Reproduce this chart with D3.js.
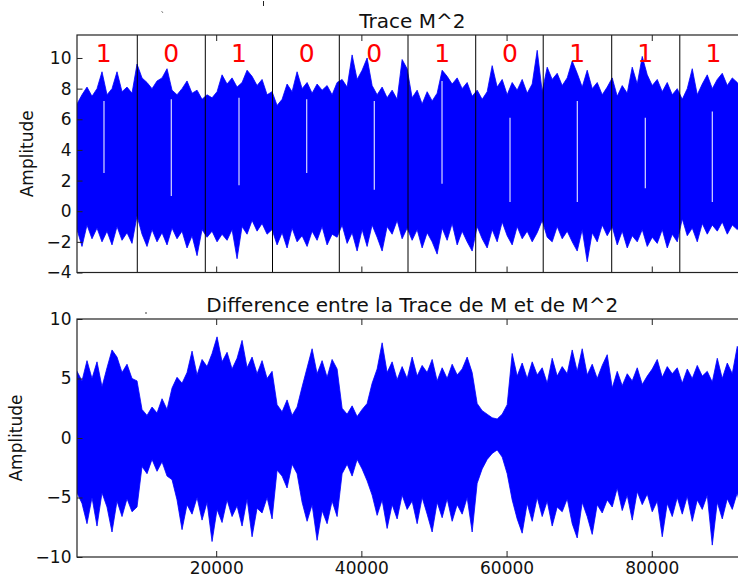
<!DOCTYPE html>
<html>
<head>
<meta charset="utf-8">
<script src="https://cdn.jsdelivr.net/npm/d3@7"></script>
<style>
  html, body { margin: 0; padding: 0; background: #fff; }
  svg { display: block; font-family: "DejaVu Sans", sans-serif; }
</style>
</head>
<body>
<svg id="chart" width="738" height="580"></svg>
<script>
// ---------------- data ----------------
const sampleStart = 830;     // first sample index shown
const sampleStep = 689;      // samples between envelope readings
const xTicks = [20000, 40000, 60000, 80000];
const topYTicks = [-4, -2, 0, 2, 4, 6, 8, 10];
const botYTicks = [-10, -5, 0, 5, 10];
const topTitle = "Trace M^2";
const botTitle = "Difference entre la Trace de M et de M^2";
const yLabel = "Amplitude";

// bits decoded, position of each label (sample index)
const bits = ["1","0","1","0","0","1","0","1","1","1"];
const bitX = [4520, 13820, 23150, 32470, 41780, 51150, 60470, 69740, 79110, 88480];
// boundaries between bits (sample index)
const boundX = [9134, 18503, 27760, 36960, 46424, 55750, 65046, 74482, 83862];

// upper / lower envelope of the Trace M^2 signal
const topHi = [7.0,7.6,8.1,7.5,8.0,9.1,7.6,8.0,9.1,7.8,8.1,7.7,9.6,8.7,8.4,8.0,8.5,8.7,9.3,7.9,
  7.6,8.0,8.5,7.7,7.9,7.3,7.6,7.4,7.8,8.9,8.3,8.7,8.1,8.4,9.2,8.8,8.2,8.6,7.6,7.8,
  6.9,7.3,8.3,7.8,9.1,8.0,8.4,7.7,8.3,7.9,8.2,7.6,8.4,8.6,8.1,10.2,8.6,9.2,10.0,8.2,
  7.6,8.1,7.4,7.9,7.3,9.9,9.3,7.4,7.9,7.0,7.8,7.2,7.7,9.2,8.8,8.3,8.7,8.0,8.4,7.5,
  7.9,7.3,7.8,9.5,8.1,8.6,7.6,8.4,7.9,8.6,7.7,8.3,10.5,7.8,9.4,8.6,9.0,8.2,8.7,9.8,
  9.0,8.1,9.2,8.0,8.4,7.6,8.1,8.7,7.5,8.2,7.7,9.4,8.3,10.1,8.9,8.2,8.6,7.8,8.4,7.6,
  8.0,7.3,8.0,9.3,7.6,8.3,8.9,8.0,8.6,9.0,8.2,8.7,8.4,8.0,8.2];
const topLo = [-1.2,-2.3,-0.9,-1.8,-1.1,-2.0,-1.3,-2.2,-1.0,-1.9,-1.4,-2.1,-0.3,-1.5,-2.3,-1.2,-2.0,-1.4,-2.2,-1.1,
  -1.8,-1.3,-2.4,-1.6,-2.9,-1.2,-1.7,-1.3,-2.0,-1.5,-1.9,-1.2,-3.1,-1.0,-1.5,-0.6,-1.3,-0.8,-1.5,-1.2,
  -2.2,-1.4,-2.4,-1.1,-2.0,-1.6,-2.3,-1.3,-1.9,-1.0,-2.2,-1.5,-1.7,-0.9,-2.1,-1.4,-2.6,-1.2,-2.3,-0.9,
  -1.7,-2.6,-1.0,-1.5,-0.6,-1.8,-1.1,-1.9,-1.2,-2.4,-1.4,-2.0,-2.8,-1.1,-1.9,-0.8,-2.2,-1.3,-2.0,-2.6,
  -1.0,-1.8,-2.4,-1.2,-2.0,-0.7,-1.6,-2.2,-1.0,-1.8,-1.3,-2.0,-1.4,-0.6,-1.7,-2.0,-1.0,-1.8,-1.3,-2.0,
  -2.6,-1.2,-3.3,-1.4,-2.0,-0.9,-1.6,-1.0,-2.2,-1.3,-2.4,-1.6,-2.0,-1.2,-2.3,-1.7,-2.1,-1.2,-2.4,-1.5,
  -2.0,-0.5,-1.6,-1.1,-2.0,-0.8,-1.5,-0.9,-1.3,-0.7,-1.5,-0.9,-1.2,-0.8,-1.4];

// narrow gaps (white streaks) inside the Trace M^2 band
const gapX  = [4548, 13820, 23145, 32470, 41781, 51108, 60474, 69744, 79110, 88340];
const gapLo = [2.5, 1.0, 1.7, 2.5, 1.4, 1.8, 0.6, 0.6, 1.5, 0.6];
const gapHi = [7.2, 7.3, 7.4, 7.3, 7.2, 8.5, 6.1, 7.2, 6.1, 6.5];

// upper / lower envelope of the difference signal
const botHi = [5.6,4.8,6.5,5.0,6.4,4.3,5.9,7.4,6.8,5.5,6.2,5.0,4.8,2.4,1.9,2.6,2.1,3.3,2.4,4.2,
  5.1,4.6,5.5,7.3,5.3,6.6,6.0,7.1,8.5,6.4,7.2,5.8,6.7,8.2,5.9,6.8,5.4,6.5,5.0,5.6,
  2.8,2.2,3.2,1.9,2.6,4.3,5.9,7.5,5.4,6.5,5.1,6.6,5.8,2.5,2.0,2.7,1.8,2.4,2.9,4.6,
  5.8,8.0,5.5,6.4,4.9,6.0,5.0,6.8,5.2,6.1,5.5,6.6,4.8,5.9,5.0,6.2,5.3,5.8,6.8,5.5,
  2.9,2.3,2.0,1.7,1.6,2.0,2.8,7.1,5.2,6.3,5.0,6.4,5.3,5.9,4.6,6.7,5.2,6.0,5.4,7.4,
  5.6,7.5,5.3,6.2,5.0,6.1,7.0,4.2,5.6,4.4,5.4,4.8,5.9,4.5,5.2,5.8,6.6,5.1,6.0,5.4,
  5.9,4.6,5.8,5.0,6.1,5.2,5.6,4.7,6.7,5.0,6.3,5.4,7.7,5.8,6.0];
const botLo = [-4.6,-5.5,-7.2,-5.0,-7.4,-4.6,-5.8,-7.9,-5.3,-6.6,-5.1,-6.2,-5.8,-2.4,-3.0,-1.8,-2.8,-2.0,-3.2,-3.5,
  -5.2,-7.7,-5.6,-6.4,-5.0,-6.9,-5.4,-8.7,-6.0,-7.1,-5.2,-6.6,-5.7,-7.4,-5.1,-8.3,-5.9,-6.3,-5.0,-6.8,
  -2.7,-3.2,-4.2,-2.2,-3.0,-5.4,-7.0,-5.6,-8.6,-6.1,-7.2,-5.3,-6.6,-3.0,-2.2,-3.2,-1.8,-2.6,-3.6,-4.8,
  -6.5,-5.2,-7.6,-5.6,-6.8,-4.8,-6.0,-5.3,-7.2,-5.0,-6.4,-7.9,-5.4,-6.7,-5.1,-7.0,-5.6,-6.4,-5.0,-7.9,
  -3.8,-2.6,-1.8,-1.3,-1.0,-1.6,-3.0,-5.2,-6.8,-8.0,-5.5,-7.0,-5.0,-6.6,-5.3,-7.4,-5.8,-6.2,-5.1,-7.2,
  -8.4,-5.4,-6.6,-8.1,-5.6,-6.3,-5.2,-5.8,-4.2,-6.1,-4.8,-6.9,-4.5,-5.6,-4.7,-6.2,-5.3,-8.3,-5.5,-6.6,
  -5.0,-6.4,-4.9,-7.0,-5.2,-6.0,-4.8,-9.0,-5.4,-6.8,-5.1,-6.0,-4.6,-6.5,-5.2];

// ---------------- drawing ----------------
const svg = d3.select("#chart");
svg.append("rect").attr("width", 738).attr("height", 580).attr("fill", "#fff");

const plotLeft = 77, plotRight = 747.6;
const x = d3.scaleLinear().domain([sampleStart, 93200]).range([plotLeft, plotRight]);

const panels = [
  {top: 35, bottom: 272.5, domain: [-4, 11.5], ticks: topYTicks, hi: topHi, lo: topLo,
   title: topTitle, titleY: 28.3, labelX: 33, xLabels: false},
  {top: 319, bottom: 557, domain: [-10, 10], ticks: botYTicks, hi: botHi, lo: botLo,
   title: botTitle, titleY: 311.5, labelX: 21.5, xLabels: true}
];

const fmt = v => (v < 0 ? "\u2212" + Math.abs(v) : String(v));

panels.forEach((p, k) => {
  const y = d3.scaleLinear().domain(p.domain).range([p.bottom, p.top]);
  const g = svg.append("g");
  const clipId = "clip" + k;
  svg.append("clipPath").attr("id", clipId)
    .append("rect").attr("x", plotLeft).attr("y", p.top)
    .attr("width", plotRight - plotLeft).attr("height", p.bottom - p.top);

  const data = p.hi.map((h, i) => ({s: sampleStart + i * sampleStep, hi: h, lo: p.lo[i]}));
  const area = d3.area().x(d => x(d.s)).y0(d => y(d.lo)).y1(d => y(d.hi)).curve(d3.curveLinear);
  const dg = g.append("g").attr("clip-path", `url(#${clipId})`);
  dg.append("path").datum(data).attr("d", area)
    .attr("fill", "#0000ff").attr("stroke", "#0000ff").attr("stroke-width", 0.8)
    .attr("stroke-linejoin", "miter");

  if (k === 0) {
    dg.selectAll("line.gap").data(gapX).join("line").attr("class", "gap")
      .attr("x1", d => x(d)).attr("x2", d => x(d))
      .attr("y1", (d, i) => y(gapLo[i])).attr("y2", (d, i) => y(gapHi[i]))
      .attr("stroke", "#ffffff").attr("stroke-opacity", 0.85).attr("stroke-width", 1.2);
    dg.selectAll("line.bound").data(boundX).join("line").attr("class", "bound")
      .attr("x1", d => x(d)).attr("x2", d => x(d))
      .attr("y1", p.top).attr("y2", p.bottom)
      .attr("stroke", "#000").attr("stroke-width", 1);
    dg.selectAll("text.bit").data(bits).join("text").attr("class", "bit")
      .attr("x", (d, i) => x(bitX[i])).attr("y", 62)
      .attr("text-anchor", "middle").attr("font-size", 25)
      .attr("fill", "#ff0000").text(d => d);
  }

  // y axis (inward ticks)
  const ya = g.append("g").attr("transform", `translate(${plotLeft},0)`)
    .call(d3.axisLeft(y).tickValues(p.ticks).tickSize(-5.5).tickPadding(5.5).tickFormat(fmt));
  ya.select(".domain").remove();
  ya.selectAll("line").attr("stroke", "#222");
  ya.selectAll("text").attr("font-size", 17).attr("fill", "#111")
    .attr("font-family", "DejaVu Sans");

  // x axis bottom
  const xb = g.append("g").attr("transform", `translate(0,${p.bottom})`)
    .call(d3.axisBottom(x).tickValues(xTicks).tickSize(-6).tickPadding(5.4)
      .tickFormat(p.xLabels ? d3.format("d") : () => ""));
  xb.select(".domain").remove();
  xb.selectAll("line").attr("stroke", "#222");
  xb.selectAll("text").attr("font-size", 17).attr("fill", "#111")
    .attr("font-family", "DejaVu Sans");

  // x axis top (ticks only)
  const xt = g.append("g").attr("transform", `translate(0,${p.top})`)
    .call(d3.axisTop(x).tickValues(xTicks).tickSize(-6).tickFormat(() => ""));
  xt.select(".domain").remove();
  xt.selectAll("line").attr("stroke", "#222");

  // spines
  g.append("rect").attr("x", plotLeft).attr("y", p.top)
    .attr("width", plotRight - plotLeft).attr("height", p.bottom - p.top)
    .attr("fill", "none").attr("stroke", "#222").attr("stroke-width", 1.2);

  // title
  g.append("text").attr("x", (plotLeft + plotRight) / 2).attr("y", p.titleY)
    .attr("text-anchor", "middle").attr("font-size", 20).attr("fill", "#111")
    .text(p.title);

  // y label
  g.append("text")
    .attr("transform", `translate(${p.labelX},${(p.top + p.bottom) / 2}) rotate(-90)`)
    .attr("text-anchor", "middle").attr("font-size", 17).attr("fill", "#111")
    .text(yLabel);
});

// small stray specks present in the original picture
svg.append("line").attr("x1", 161.5).attr("y1", 11).attr("x2", 163).attr("y2", 13)
  .attr("stroke", "#666").attr("stroke-width", 0.8);
svg.append("line").attr("x1", 263.5).attr("y1", 1).attr("x2", 263.5).attr("y2", 6)
  .attr("stroke", "#222").attr("stroke-width", 1);
svg.append("circle").attr("cx", 146).attr("cy", 313).attr("r", 0.8).attr("fill", "#222");
</script>
</body>
</html>
